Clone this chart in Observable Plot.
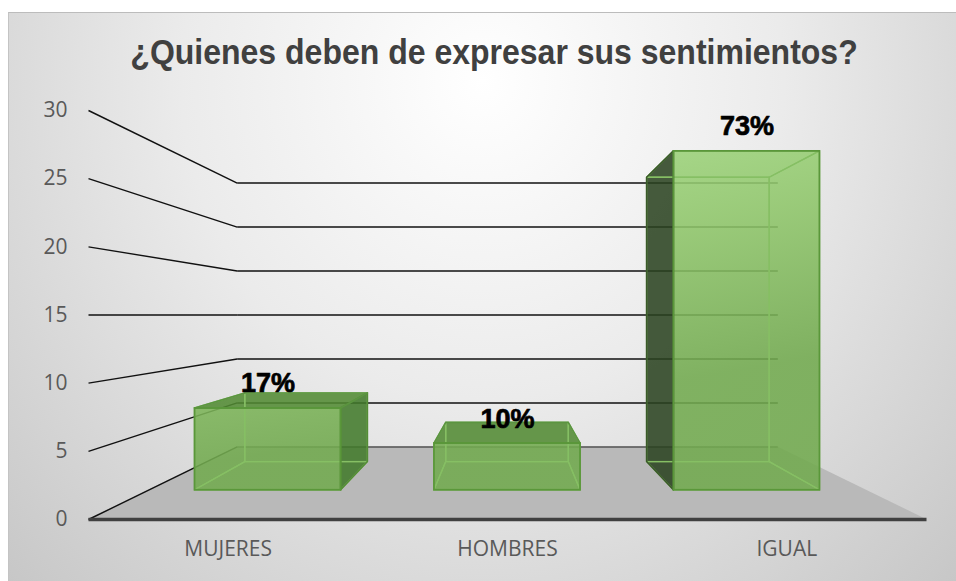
<!DOCTYPE html>
<html><head><meta charset="utf-8">
<script src="https://cdn.jsdelivr.net/npm/d3@7"></script>
<script src="https://cdn.jsdelivr.net/npm/@observablehq/plot@0.6"></script>
<style>
body{margin:0;width:956px;height:581px;position:relative;overflow:hidden;background:#fff;}
#bg{position:absolute;left:8px;top:12px;width:948px;height:569px;box-sizing:border-box;border-top:1px solid #bcbcbc;border-left:1px solid #c4c4c4;
background:radial-gradient(ellipse farthest-corner at 50% 12%, #ffffff 0%, #ebebeb 45%, #c7c7c7 100%);}
#title{position:absolute;left:20px;width:948px;top:34px;text-align:center;font:bold 32px "Liberation Sans",Arial,sans-serif;color:#404040;white-space:nowrap;transform:scaleY(1.08);}
#chart{position:absolute;left:0;top:95px;}
</style></head><body>
<div id="bg"></div><div id="title"></div><div id="chart"></div>
<script>
const titleText = "¿Quienes deben de expresar sus sentimientos?";
const categories = ["MUJERES", "HOMBRES", "IGUAL"];
const values = [7, 4, 29];
const pctLabels = ["17%", "10%", "73%"];
const yTicks = [0, 5, 10, 15, 20, 25, 30];

document.getElementById("title").textContent = titleText;

// 3D view (one-point perspective) settings
const VX = 1.5, VY = 15, K = 0.55, HW = 0.305, Z0 = 0.303, Z1 = 0.71;
const P = (x, v, z) => { const s = 1 / (1 + K * z); return [VX + (x - VX) * s, VY + (v - VY) * s]; };

const bars = categories.map((c, i) => ({i, c, v: values[i], label: pctLabels[i], xl: i + 0.5 - HW, xr: i + 0.5 + HW, xc: i + 0.5}));
const rectAt = (b, z) => { const [x1, y1] = P(b.xl, 0, z); const [x2, y2] = P(b.xr, b.v, z); return {i: b.i, x1, x2, y1, y2}; };
const hface = (b, v) => [Z0, Z1].map(z => { const [x1, y] = P(b.xl, v, z); const [x2] = P(b.xr, v, z); return {i: b.i, y, x1, x2}; });
const vface = (b, x) => [Z0, Z1].map(z => { const [xx, y1] = P(x, 0, z); const [, y2] = P(x, b.v, z); return {i: b.i, x: xx, y1, y2}; });

const fronts = bars.map(b => rectAt(b, Z0));
const backs = bars.map(b => rectAt(b, Z1));
const rightSides = bars.filter(b => b.xc < VX).flatMap(b => vface(b, b.xr));
const leftSides = bars.filter(b => b.xc > VX).flatMap(b => vface(b, b.xl));
const farSides = bars.flatMap(b => b.xc < VX ? vface(b, b.xl) : b.xc > VX ? vface(b, b.xr) : [...vface(b, b.xl).map(d => ({...d, i: b.i + "l"})), ...vface(b, b.xr).map(d => ({...d, i: b.i + "r"}))]);
const tops = bars.filter(b => b.v < VY).flatMap(b => hface(b, b.v));
const hiddenTops = bars.filter(b => b.v >= VY).flatMap(b => hface(b, b.v));
const bottoms = bars.flatMap(b => hface(b, 0));
const labelPts = bars.map(b => { const [x, y] = P(b.xc, b.v, Z0); return {x, y, label: b.label}; });

const floor = [0, 1].map(z => { const [x1, y] = P(0, 0, z); const [x2] = P(3, 0, z); return {y, x1, x2}; });
const seg = (a, b) => ({x1: a[0], y1: a[1], x2: b[0], y2: b[1]});
const leftLines = yTicks.map(v => seg(P(0, v, 0), P(0, v, 1)));
const backLines = yTicks.map(v => seg(P(0, v, 1), P(3, v, 1)));
const frontEdge = [seg(P(0, 0, 0), P(3, 0, 0))];

const edgeCol = "#86bf64";
const chart = Plot.plot({
  width: 956, height: 486, marginLeft: 88, marginRight: 30, marginTop: 15, marginBottom: 62,
  style: {background: "transparent", fontFamily: "'Open Sans', sans-serif", fontSize: "21px", color: "#595959", overflow: "visible"},
  x: {type: "linear", domain: [0, 3], ticks: [0.5, 1.5, 2.5], tickFormat: d => categories[Math.floor(d)], tickSize: 0, tickPadding: 22, label: null},
  y: {type: "linear", domain: [0, 30], ticks: yTicks, tickSize: 0, tickPadding: 21, label: null},
  marks: [
    Plot.areaX(floor, {y: "y", x1: "x1", x2: "x2", fill: "#b9b9b9"}),
    Plot.link(backLines.slice(0, 1), {x1: "x1", y1: "y1", x2: "x2", y2: "y2", stroke: "#555", strokeWidth: 1.5}),
    Plot.link(backLines.slice(1), {x1: "x1", y1: "y1", x2: "x2", y2: "y2", stroke: "#111", strokeWidth: 1.4}),
    Plot.link(leftLines, {x1: "x1", y1: "y1", x2: "x2", y2: "y2", stroke: "#111", strokeWidth: 1.4}),
    Plot.link(frontEdge, {x1: "x1", y1: "y1", x2: "x2", y2: "y2", stroke: "#404040", strokeWidth: 3.5}),
    Plot.areaY(rightSides, {x: "x", y1: "y1", y2: "y2", z: "i", fill: "#427a2a", fillOpacity: 0.87}),
    Plot.areaY(leftSides, {x: "x", y1: "y1", y2: "y2", z: "i", fill: "#2b4320", fillOpacity: 0.87}),
    Plot.areaX(tops, {y: "y", x1: "x1", x2: "x2", z: "i", fill: "#518a33", fillOpacity: 0.87}),
    Plot.rect(fronts, {x1: "x1", x2: "x2", y1: "y1", y2: "y2", fill: "url(#gFront)", fillOpacity: 0.88}),
    // inner (hidden) edges seen through the translucent boxes
    Plot.rect(backs, {x1: "x1", x2: "x2", y1: "y1", y2: "y2", fill: "none", stroke: edgeCol, strokeWidth: 1.3}),
    Plot.areaY(farSides, {x: "x", y1: "y1", y2: "y2", z: "i", fill: "none", stroke: edgeCol, strokeWidth: 1.3}),
    Plot.areaX(hiddenTops, {y: "y", x1: "x1", x2: "x2", z: "i", fill: "none", stroke: edgeCol, strokeWidth: 1.3}),
    Plot.areaX(bottoms, {y: "y", x1: "x1", x2: "x2", z: "i", fill: "none", stroke: edgeCol, strokeWidth: 1.3}),
    // visible outer edges
    Plot.areaY(rightSides, {x: "x", y1: "y1", y2: "y2", z: "i", fill: "none", stroke: "#548c37", strokeWidth: 1.6}),
    Plot.areaY(leftSides, {x: "x", y1: "y1", y2: "y2", z: "i", fill: "none", stroke: "#3a5a29", strokeWidth: 1.6}),
    Plot.areaX(tops, {y: "y", x1: "x1", x2: "x2", z: "i", fill: "none", stroke: "#5b9440", strokeWidth: 1.6}),
    Plot.rect(fronts, {x1: "x1", x2: "x2", y1: "y1", y2: "y2", fill: "none", stroke: "#5a973a", strokeWidth: 1.8}),
    Plot.text(labelPts, {x: "x", y: "y", text: "label", dy: -16, lineAnchor: "bottom", fontSize: 27, fontWeight: "bold",
      fontFamily: "'Liberation Sans', Arial, sans-serif", fill: "black", stroke: "black", strokeWidth: 0.7})
  ]
});
const defs = document.createElementNS("http://www.w3.org/2000/svg", "defs");
defs.innerHTML = '<linearGradient id="gFront" gradientUnits="userSpaceOnUse" x1="0" y1="56" x2="60" y2="395">' +
  '<stop offset="0" stop-color="#aee48f"/><stop offset="0.55" stop-color="#8fc66a"/><stop offset="1" stop-color="#72aa4f"/></linearGradient>';
chart.insertBefore(defs, chart.firstChild);
document.getElementById("chart").appendChild(chart);
</script></body></html>
